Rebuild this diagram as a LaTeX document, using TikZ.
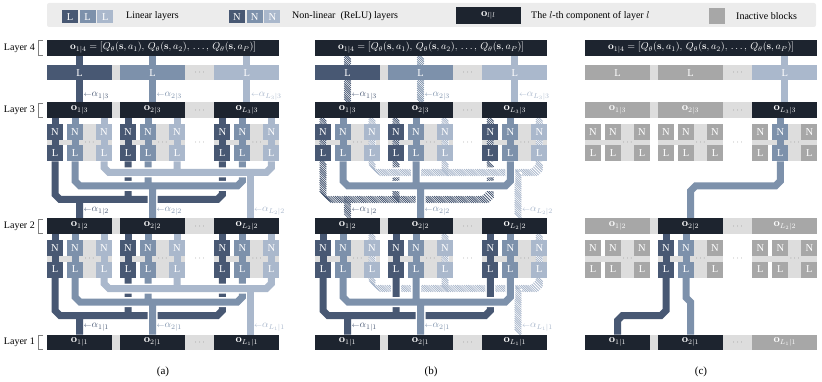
\documentclass[tikz,border=0pt]{standalone}
\usepackage[no-math]{fontspec}
\setmainfont{Liberation Serif}
\usetikzlibrary{decorations.markings}
\definecolor{navy}{HTML}{1D242F}
\definecolor{cA}{HTML}{485873}
\definecolor{cB}{HTML}{7D91AB}
\definecolor{cC}{HTML}{AAB8CC}
\definecolor{lg}{HTML}{DDDDDD}
\definecolor{ig}{HTML}{A7A7A7}
\definecolor{legbg}{HTML}{ECECEC}
\definecolor{dotc}{HTML}{6E6E6E}
\definecolor{brk}{HTML}{808080}
\tikzset{
 boxn/.style={inner sep=0pt,outer sep=0pt,text=white,font=\fontsize{10.5}{11}\selectfont},
 dotn/.style={inner sep=0pt,text=dotc,font=\fontsize{8}{8}\selectfont},
 alab/.style={inner sep=0pt,anchor=west,font=\fontsize{10}{11}\selectfont},
 txt/.style={inner sep=0pt,font=\fontsize{10}{12}\selectfont},
 captxt/.style={inner sep=0pt,font=\fontsize{11}{12}\selectfont},
 conn/.style={line width=7pt},
 hatchdeco/.style={postaction={decorate,decoration={markings,mark=between positions 0 and 1 step 2.2pt with {\pgftransformresetnontranslations\draw[#1,line width=.8pt] (-3.4,-3.4)--(3.4,3.4);}}}},
}
% routing paths (layer 3 -> layer 2; shifted by 116 for layer 2 -> layer 1)
\def\rDU{(55,161.5)--(55,194.5)--(60,199.5)--(217.3,199.5)--(222.3,194.5)--(222.3,161.5)}
\def\rDM{(128,161.5)--(128,199.5)}
\def\rDD{(79.5,199.5)--(79.5,218.5)}
\def\rMU{(75,161.5)--(75,181)--(80,186)--(237.3,186)--(242.3,181)--(242.3,161.5)}
\def\rMM{(148,161.5)--(148,186)}
\def\rMD{(152.5,186)--(152.5,218.5)}
\def\rLU{(104,161.5)--(104,167.5)--(109,172.5)--(266.3,172.5)--(271.3,167.5)--(271.3,161.5)}
\def\rLM{(177,161.5)--(177,172.5)}
\def\rLD{(250,172.5)--(250,218.5)}
\def\uAa{(55,118)--(55,161.5)}\def\uAb{(128,118)--(128,161.5)}\def\uAc{(222.3,118)--(222.3,161.5)}
\def\uBa{(75,118)--(75,161.5)}\def\uBb{(148,118)--(148,161.5)}\def\uBc{(242.3,118)--(242.3,161.5)}
\def\uCa{(104,118)--(104,161.5)}\def\uCb{(177,118)--(177,161.5)}\def\uCc{(271.3,118)--(271.3,161.5)}
\def\tA{(79.5,56)--(79.5,102.5)}\def\tB{(152.5,56)--(152.5,102.5)}\def\tC{(246.8,56)--(246.8,102.5)}
\newcommand\sset[2]{\draw[white,line width=10pt] #2; \draw[#1,line width=7pt] #2;}
\newcommand\hset[3]{\foreach \myp in {#3}{\draw[white,line width=#2] \myp;}\foreach \myp in {#3}{\path[hatchdeco=#1] \myp;}}
\newcommand\bx[7]{\node[boxn,fill=#6,minimum width={(#4)-(#2)},minimum height={(#5)-(#3)}] (#1) at ({((#2)+(#4))/2},{((#3)+(#5))/2}) {#7};}
\newcommand\orow[9]{\bx{#1a}{47}{#2}{112}{#3}{#4}{#7}\bx{#1b}{120}{#2}{185}{#3}{#5}{#8}\bx{#1c}{214.3}{#2}{279.3}{#3}{#6}{#9}}
\newcommand\nl[6]{%
 \bx{#1n1}{#2}{124.5+#3}{#2+16}{140+#3}{#4}{N}\bx{#1l1}{#2}{145.5+#3}{#2+16}{161.5+#3}{#4}{L}%
 \bx{#1n2}{#2+20}{124.5+#3}{#2+36}{140+#3}{#5}{N}\bx{#1l2}{#2+20}{145.5+#3}{#2+36}{161.5+#3}{#5}{L}%
 \bx{#1n3}{#2+49}{124.5+#3}{#2+65}{140+#3}{#6}{N}\bx{#1l3}{#2+49}{145.5+#3}{#2+65}{161.5+#3}{#6}{L}}
\def\topf{\fontsize{10}{11}\selectfont$\mathbf{o}_{1|4}=[Q_\theta(\mathbf{s},a_1),\,Q_\theta(\mathbf{s},a_2),\,\dots,\,Q_\theta(\mathbf{s},a_P)]$}
\newcommand\bgs{%
 \fill[lg] (47,65) rectangle (279.3,80.5);
 \foreach \yy in {102.5,218.5,334.5}{\fill[lg] (47,\yy) rectangle (279.3,\yy+15.5);}
 \foreach \s in {0,116}{%
   \foreach \g in {47,120,214.3}{%
     \fill[lg] (\g+36,124.5+\s) rectangle (\g+49,161.5+\s);
     \fill[lg] (\g,140+\s) rectangle (\g+65,145.5+\s);
     \node[dotn] at (\g+42.5,142.75+\s) {$\cdots$};}
   \node[dotn] at (199.7,142.75+\s) {$\cdots$};}
 \foreach \yy in {72.75,110.25,226.25,342.25}{\node[dotn] at (199.7,\yy) {$\cdots$};}}
\newcommand\abboxes[1]{%
 \bx{#14}{47}{40}{279.3}{56}{navy}{\topf}
 \orow{#1L}{65}{80.5}{cA}{cB}{cC}{L}{L}{L}
 \orow{#13}{102.5}{118}{navy}{navy}{navy}{$\mathbf{o}_{1|3}$}{$\mathbf{o}_{2|3}$}{$\mathbf{o}_{L_3|3}$}
 \nl{#13a}{47}{0}{cA}{cB}{cC}\nl{#13b}{120}{0}{cA}{cB}{cC}\nl{#13c}{214.3}{0}{cA}{cB}{cC}
 \orow{#12}{218.5}{234}{navy}{navy}{navy}{$\mathbf{o}_{1|2}$}{$\mathbf{o}_{2|2}$}{$\mathbf{o}_{L_2|2}$}
 \nl{#12a}{47}{116}{cA}{cB}{cC}\nl{#12b}{120}{116}{cA}{cB}{cC}\nl{#12c}{214.3}{116}{cA}{cB}{cC}
 \orow{#11}{334.5}{350}{navy}{navy}{navy}{$\mathbf{o}_{1|1}$}{$\mathbf{o}_{2|1}$}{$\mathbf{o}_{L_1|1}$}}
\def\arr{{\fontsize{7}{7}\selectfont$\leftarrow$}}
\newcommand\alabels[1]{%
 \node[alab,text=cA] (#1al13) at (83.5,96) {\arr$\alpha_{1|3}$};
 \node[alab,text=cB] (#1al23) at (156.5,96) {\arr$\alpha_{2|3}$};
 \node[alab,text=cC] (#1al33) at (250.8,96) {\arr$\alpha_{L_3|3}$};
 \node[alab,text=cA] (#1al12) at (83.5,211) {\arr$\alpha_{1|2}$};
 \node[alab,text=cB] (#1al22) at (156.5,211) {\arr$\alpha_{2|2}$};
 \node[alab,text=cC] (#1al32) at (254,211) {\arr$\alpha_{L_2|2}$};
 \node[alab,text=cA] (#1al11) at (83.5,327) {\arr$\alpha_{1|1}$};
 \node[alab,text=cB] (#1al21) at (156.5,327) {\arr$\alpha_{2|1}$};
 \node[alab,text=cC] (#1al31) at (254,327) {\arr$\alpha_{L_1|1}$};}
\begin{document}
\begin{tikzpicture}[x=1pt,y=-1pt]
\useasboundingbox (0,0) rectangle (822,382);
% ---------- legend
\fill[legbg,rounded corners=2pt] (47,3) rectangle (816,27);
\bx{lgL1}{62}{10}{78}{23.5}{cA}{L}\bx{lgL2}{79.7}{10}{95.7}{23.5}{cB}{L}\bx{lgL3}{97.4}{10}{113.4}{23.5}{cC}{L}
\node[txt,anchor=west] (lgLt) at (126,16.5) {Linear layers};
\bx{lgN1}{229}{10}{245}{23.5}{cA}{N}\bx{lgN2}{246.7}{10}{262.7}{23.5}{cB}{N}\bx{lgN3}{264.4}{10}{280.4}{23.5}{cC}{N}
\node[txt,anchor=west] (lgNt) at (292,16.5) {Non-linear\ \ (ReLU) layers};
\bx{lgO}{455.5}{7}{521}{24}{navy}{$\mathbf{o}_{l|l}$}
\node[txt,anchor=west] (lgOt) at (531,16.5) {The $l$-th component of layer $l$};
\bx{lgI}{709}{8}{725}{24}{ig}{}
\node[txt,anchor=west] (lgIt) at (736,16.5) {Inactive blocks};
% ---------- layer labels
\foreach \yy/\nn in {40/4,102.5/3,218.5/2,334.5/1}{
 \node[txt,anchor=east] (lay\nn) at (35,\yy+8) {Layer \nn};
 \draw[brk,line width=.8pt] (43,\yy+.5)--(38.5,\yy+.5)--(38.5,\yy+15)--(43,\yy+15);}
% ========== panel (a)
\begin{scope}
\bgs
\draw[conn,cA] \tA; \draw[conn,cB] \tB; \draw[conn,cC] \tC;
\foreach \s in {0,-116}{\begin{scope}[yshift=\s pt]
 \draw[conn,cA] \uAa \uAb \uAc; \draw[conn,cB] \uBa \uBb \uBc; \draw[conn,cC] \uCa \uCb \uCc;
 \sset{cA}{\rDU \rDM \rDD}\sset{cB}{\rMU \rMM \rMD}\sset{cC}{\rLU \rLM}\draw[conn,cC] \rLD;
\end{scope}}
\abboxes{a}
\alabels{a}
\node[captxt] (capa) at (163,372) {(a)};
\end{scope}
% ========== panel (b)
\begin{scope}[xshift=268pt]
\bgs
\hset{cA}{7pt}{\tA}\hset{cB}{7pt}{\tB}\draw[conn,cC] \tC;
% layer 3 -> 2
\hset{cA}{7pt}{\uAa,\uAb,\uAc}\draw[conn,cB] \uBa \uBb \uBc; \hset{cC}{7pt}{\uCa,\uCb,\uCc}
\hset{cA}{10pt}{\rDU,\rDM,\rDD}\hset{cC}{10pt}{\rLU,\rLM}\hset{cC}{7pt}{\rLD}
\sset{cB}{\rMU \rMM \rMD}
% layer 2 -> 1
\begin{scope}[yshift=-116pt]
\draw[conn,cA] \uAa \uAb \uAc; \draw[conn,cB] \uBa \uBb \uBc; \hset{cC}{7pt}{\uCa,\uCb,\uCc}
\hset{cC}{10pt}{\rLU,\rLM}\hset{cC}{7pt}{\rLD}
\sset{cA}{\rDU \rDM \rDD}\sset{cB}{\rMU \rMM \rMD}
\end{scope}
\abboxes{b}
\alabels{b}
\node[captxt] (capb) at (163,372) {(b)};
\end{scope}
% ========== panel (c)
\begin{scope}[xshift=538pt]
\bgs
\draw[conn,cC] \tC;
\draw[conn,cB] \uBc;
\sset{cB}{(242.3,161.5)--(242.3,181)--(237.3,186)--(157.5,186)--(152.5,191)--(152.5,218.5)}
\draw[conn,cA] (128,234)--(128,277.5);
\draw[conn,cB] (148,234)--(148,277.5);
\sset{cA}{(128,277.5)--(128,310.5)--(123,315.5)--(84.5,315.5)--(79.5,320.5)--(79.5,334.5)}
\sset{cB}{(148,277.5)--(148,297.5)--(152.5,302)--(152.5,334.5)}
\bx{c4}{47}{40}{279.3}{56}{navy}{\topf}
\orow{cL}{65}{80.5}{ig}{ig}{cC}{L}{L}{L}
\orow{c3}{102.5}{118}{ig}{ig}{navy}{$\mathbf{o}_{1|3}$}{$\mathbf{o}_{2|3}$}{$\mathbf{o}_{L_3|3}$}
\nl{c3a}{47}{0}{ig}{ig}{ig}\nl{c3b}{120}{0}{ig}{ig}{ig}\nl{c3c}{214.3}{0}{ig}{cB}{ig}
\orow{c2}{218.5}{234}{ig}{navy}{ig}{$\mathbf{o}_{1|2}$}{$\mathbf{o}_{2|2}$}{$\mathbf{o}_{L_2|2}$}
\nl{c2a}{47}{116}{ig}{ig}{ig}\nl{c2b}{120}{116}{cA}{cB}{ig}\nl{c2c}{214.3}{116}{ig}{ig}{ig}
\orow{c1}{334.5}{350}{navy}{navy}{ig}{$\mathbf{o}_{1|1}$}{$\mathbf{o}_{2|1}$}{$\mathbf{o}_{L_1|1}$}
\node[captxt] (capc) at (163,372) {(c)};
\end{scope}
\end{tikzpicture}
\end{document}
